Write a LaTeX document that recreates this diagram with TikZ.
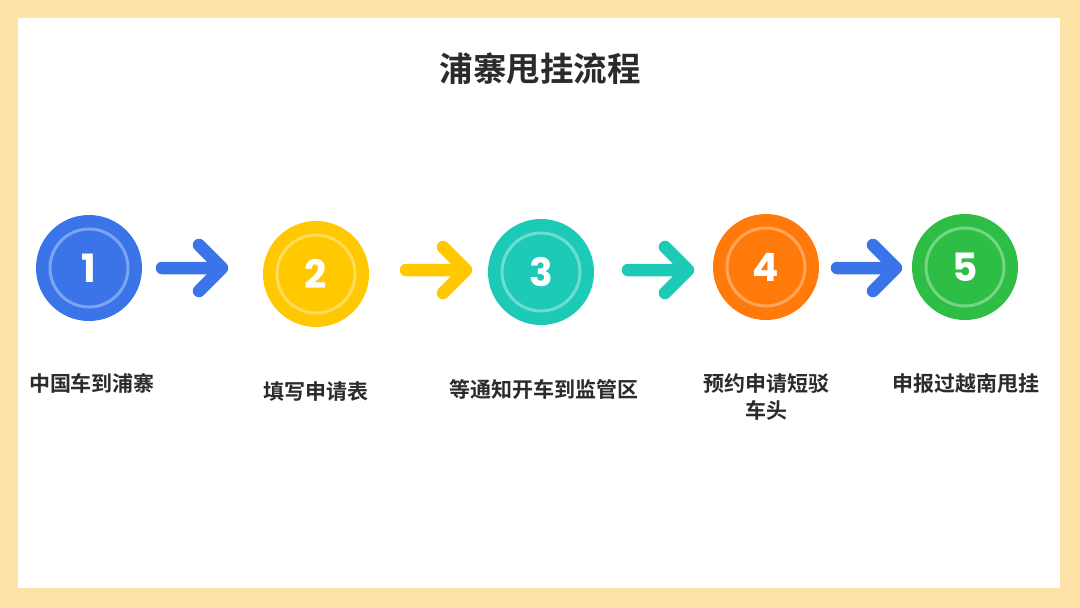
\documentclass[tikz,border=0pt]{standalone}
\usepackage{fontspec}
\newfontfamily\cjk{Noto Sans CJK SC}[BoldFont={Noto Sans CJK SC Bold}]
\newfontfamily\numfont{Poppins}
\definecolor{bordercol}{HTML}{FDE3A7}
\definecolor{c1}{HTML}{3A74E8}
\definecolor{c1l}{HTML}{7CA5F0}
\definecolor{c2}{HTML}{FFC800}
\definecolor{c2l}{HTML}{FFDD5C}
\definecolor{c3}{HTML}{1DC9B7}
\definecolor{c3l}{HTML}{6CDDD1}
\definecolor{c4}{HTML}{FF7A0A}
\definecolor{c4l}{HTML}{FFA65C}
\definecolor{c5}{HTML}{2EBE45}
\definecolor{c5l}{HTML}{74D583}
\definecolor{txt}{HTML}{2B2B2B}
\tikzset{
  stepcircle/.style={circle,minimum size=106pt,inner sep=0pt,fill=#1},
  ring/.style={draw=#1,line width=3pt},
  num/.style={text=white,font=\numfont\fontsize{39}{39}\selectfont\bfseries},
  lab/.style={text=txt,font=\cjk\fontsize{21}{27}\selectfont\bfseries,align=center},
  flow/.style={draw=#1,line width=12.5pt,line cap=round,line join=round}
}
\begin{document}
\begin{tikzpicture}[x=1pt,y=-1pt]
\useasboundingbox (0,0) rectangle (1080,608);
\fill[bordercol] (0,0) rectangle (1080,608);
\fill[white] (18,18) rectangle (1060,588);
\node[text=txt,font=\cjk\fontsize{33.5}{34}\selectfont\bfseries] (title) at (540,69) {浦寨甩挂流程};
% circles
\node[stepcircle=c1] (s1) at (89,268) {};
\node[stepcircle=c2] (s2) at (316,274) {};
\node[stepcircle=c3] (s3) at (541,272) {};
\node[stepcircle=c4] (s4) at (766,267) {};
\node[stepcircle=c5] (s5) at (965,267) {};
\draw[ring=c1l] (s1) circle (39);
\draw[ring=c2l] (s2) circle (39);
\draw[ring=c3l] (s3) circle (39);
\draw[ring=c4l] (s4) circle (39);
\draw[ring=c5l] (s5) circle (39);
\node[num] (n1) at (s1) {1};
\node[num] (n2) at (s2) {2};
\node[num] (n3) at (s3) {3};
\node[num] (n4) at (s4) {4};
\node[num] (n5) at (s5) {5};
% arrows
\coordinate (a1s) at (162,268); \coordinate (a1e) at (222,268);
\coordinate (a2s) at (406,270); \coordinate (a2e) at (466,270);
\coordinate (a3s) at (628,270); \coordinate (a3e) at (688,270);
\coordinate (a4s) at (837,268); \coordinate (a4e) at (896,268);
\draw[flow=c1] (a1s) -- (a1e) ++(-23,-23) -- (a1e) -- ++(-23,23);
\draw[flow=c2] (a2s) -- (a2e) ++(-23,-23) -- (a2e) -- ++(-23,23);
\draw[flow=c3] (a3s) -- (a3e) ++(-23,-23) -- (a3e) -- ++(-23,23);
\draw[flow=c1] (a4s) -- (a4e) ++(-23,-23) -- (a4e) -- ++(-23,23);
% labels
\node[lab] (l1) at (92,383) {中国车到浦寨};
\node[lab] (l2) at (316,392) {填写申请表};
\node[lab] (l3) at (544,389) {等通知开车到监管区};
\node[lab,anchor=north] (l4) at (766,370) {预约申请短驳\\车头};
\node[lab] (l5) at (966,384) {申报过越南甩挂};
\end{tikzpicture}
\end{document}
